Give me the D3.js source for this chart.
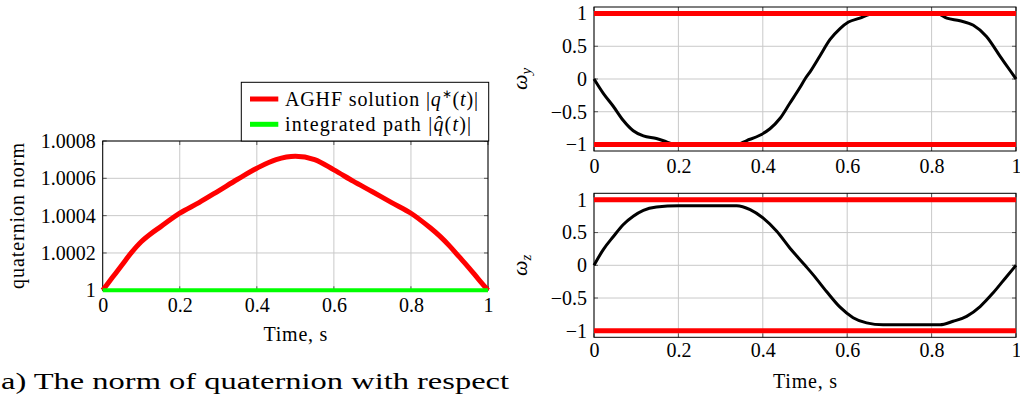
<!DOCTYPE html>
<html>
<head>
<meta charset="utf-8">
<script src="https://cdn.jsdelivr.net/npm/d3@7"></script>
<style>
  body { margin: 0; background: #fff; }
  svg { display: block; }
  text { font-family: "Liberation Serif", "Times New Roman", serif; fill: #000; }
</style>
</head>
<body>
<svg id="fig" width="1020" height="394"></svg>
<script>
// ---- data -------------------------------------------------------------
// Quaternion norm along the path
const normTime = [0, 0.025, 0.05, 0.075, 0.1, 0.125, 0.15, 0.2, 0.25, 0.3, 0.35, 0.4, 0.45, 0.5,
                  0.55, 0.6, 0.65, 0.7, 0.75, 0.8, 0.85, 0.875, 0.9, 0.925, 0.95, 0.975, 1];
const normAGHF = [1.0, 1.000068, 1.000136, 1.000203, 1.00026, 1.000303, 1.00034, 1.000413, 1.00047,
                  1.000532, 1.000595, 1.000654, 1.0007, 1.000718, 1.0007, 1.000645, 1.000585, 1.000528,
                  1.00047, 1.000413, 1.000335, 1.00029, 1.000238, 1.00018, 1.000122, 1.00006, 1.0];
const normIntegratedTime = [0, 1];
const normIntegrated = [1.0, 1.0];

// Angular velocity components
const omegaYTime = [0, 0.022, 0.046, 0.069, 0.093, 0.117, 0.148, 0.172, 0.19, 0.338, 0.362, 0.393,
                    0.417, 0.441, 0.464, 0.488, 0.5, 0.512, 0.536, 0.559, 0.583, 0.603, 0.63, 0.654,
                    0.67, 0.812, 0.836, 0.867, 0.899, 0.93, 0.962, 0.986, 1];
const omegaY = [0, -0.22, -0.42, -0.63, -0.79, -0.87, -0.91, -0.96, -1, -1, -0.94, -0.86,
                -0.76, -0.6, -0.37, -0.13, 0, 0.11, 0.36, 0.6, 0.77, 0.87, 0.93, 0.99,
                1, 1, 0.93, 0.89, 0.82, 0.65, 0.35, 0.13, 0];

const omegaZTime = [0, 0.022, 0.046, 0.069, 0.093, 0.117, 0.148, 0.2, 0.338, 0.37, 0.401, 0.433,
                    0.464, 0.5, 0.52, 0.551, 0.583, 0.614, 0.646, 0.685, 0.82, 0.851, 0.883, 0.915,
                    0.946, 0.978, 1];
const omegaZ = [0, 0.24, 0.44, 0.62, 0.75, 0.84, 0.89, 0.91, 0.91, 0.85, 0.72, 0.52,
                0.265, 0, -0.15, -0.4, -0.64, -0.8, -0.88, -0.91, -0.91, -0.855, -0.78, -0.63,
                -0.42, -0.17, 0];

// Angular velocity limits
const boundTime = [0, 1];
const boundUpper = [1, 1];
const boundLower = [-1, -1];

// Ticks
const timeTicks = [0, 0.2, 0.4, 0.6, 0.8, 1];
const timeTickLabels = ["0", "0.2", "0.4", "0.6", "0.8", "1"];
const normTicks = [1, 1.0002, 1.0004, 1.0006, 1.0008];
const normTickLabels = ["1", "1.0002", "1.0004", "1.0006", "1.0008"];
const omegaTicks = [-1, -0.5, 0, 0.5, 1];
const omegaTickLabels = ["\u22121", "\u22120.5", "0", "0.5", "1"];

// Legend entries
const legendLabels = ["AGHF solution", "integrated path"];

// ---- drawing ----------------------------------------------------------
const svg = d3.select("#fig");
const TICK_FONT = 20;
const GRID = "#c9c9c9";

function zip(xs, ys) { return xs.map((x, i) => [x, ys[i]]); }

function panel(o) {
  const g = svg.append("g");
  const x = d3.scaleLinear().domain([0, 1]).range([o.left, o.right]);
  const y = d3.scaleLinear().domain(o.yDomain).range([o.bottom, o.top]);

  // grid
  g.append("g").selectAll("line").data(o.xTicks).join("line")
    .attr("x1", d => x(d)).attr("x2", d => x(d))
    .attr("y1", o.top).attr("y2", o.bottom)
    .attr("stroke", GRID).attr("stroke-width", 1);
  g.append("g").selectAll("line").data(o.yTicks).join("line")
    .attr("x1", o.left).attr("x2", o.right)
    .attr("y1", d => y(d)).attr("y2", d => y(d))
    .attr("stroke", GRID).attr("stroke-width", 1);

  // small inward ticks on all four sides
  const tk = g.append("g").attr("stroke", "#555").attr("stroke-width", 1);
  o.xTicks.forEach(d => {
    tk.append("line").attr("x1", x(d)).attr("x2", x(d)).attr("y1", o.bottom).attr("y2", o.bottom - 4);
    tk.append("line").attr("x1", x(d)).attr("x2", x(d)).attr("y1", o.top).attr("y2", o.top + 4);
  });
  o.yTicks.forEach(d => {
    tk.append("line").attr("y1", y(d)).attr("y2", y(d)).attr("x1", o.left).attr("x2", o.left + 4);
    tk.append("line").attr("y1", y(d)).attr("y2", y(d)).attr("x1", o.right).attr("x2", o.right - 4);
  });

  // frame
  g.append("rect").attr("x", o.left).attr("y", o.top)
    .attr("width", o.right - o.left).attr("height", o.bottom - o.top)
    .attr("fill", "none").attr("stroke", "#000").attr("stroke-width", 1);

  // axes (labels only)
  const xa = g.append("g").attr("transform", `translate(0,${o.bottom})`)
    .call(d3.axisBottom(x).tickValues(o.xTicks).tickFormat((d, i) => o.xLabels[i])
      .tickSize(0).tickPadding(o.xPad));
  const ya = g.append("g").attr("transform", `translate(${o.left},0)`)
    .call(d3.axisLeft(y).tickValues(o.yTicks).tickFormat((d, i) => o.yLabels[i])
      .tickSize(0).tickPadding(7));
  [xa, ya].forEach(a => {
    a.select(".domain").remove();
    a.selectAll("text").attr("font-family", "Liberation Serif, serif")
      .attr("font-size", TICK_FONT).attr("fill", "#000");
  });

  const line = d3.line().x(d => x(d[0])).y(d => y(d[1])).curve(o.curve);
  o.series.forEach(s => {
    g.append("path").attr("d", line(s.data)).attr("fill", "none")
      .attr("stroke", s.color).attr("stroke-width", s.width)
      .attr("stroke-linejoin", "round").attr("stroke-linecap", "butt");
  });
  return { g, x, y };
}

// Left: quaternion norm
const normPanel = panel({
  left: 102.7, right: 488, top: 141, bottom: 290.3,
  yDomain: [1, 1.0008], curve: d3.curveCatmullRom.alpha(0.5),
  xTicks: timeTicks, xLabels: timeTickLabels, xPad: 7.5,
  yTicks: normTicks, yLabels: normTickLabels,
  series: [
    { data: zip(normTime, normAGHF), color: "#ff0000", width: 5 },
    { data: zip(normIntegratedTime, normIntegrated), color: "#00ff00", width: 4 }
  ]
});

// Right top: omega_y
const omegaYPanel = panel({
  left: 594, right: 1016, top: 7, bottom: 151,
  yDomain: [-1.1, 1.1], curve: d3.curveMonotoneX,
  xTicks: timeTicks, xLabels: timeTickLabels, xPad: 7.5,
  yTicks: omegaTicks, yLabels: omegaTickLabels,
  series: [
    { data: zip(omegaYTime, omegaY), color: "#000", width: 3 },
    { data: zip(boundTime, boundUpper), color: "#ff0000", width: 5 },
    { data: zip(boundTime, boundLower), color: "#ff0000", width: 5 }
  ]
});

// Right bottom: omega_z
const omegaZPanel = panel({
  left: 594, right: 1016, top: 193.3, bottom: 337.3,
  yDomain: [-1.1, 1.1], curve: d3.curveMonotoneX,
  xTicks: timeTicks, xLabels: timeTickLabels, xPad: 6,
  yTicks: omegaTicks, yLabels: omegaTickLabels,
  series: [
    { data: zip(omegaZTime, omegaZ), color: "#000", width: 3 },
    { data: zip(boundTime, boundUpper), color: "#ff0000", width: 5 },
    { data: zip(boundTime, boundLower), color: "#ff0000", width: 5 }
  ]
});

// Axis titles
const LABEL_FONT = 20;
svg.append("text").attr("x", 295.4).attr("y", 340.7).attr("text-anchor", "middle")
  .attr("font-size", LABEL_FONT).attr("textLength", 64).text("Time, s");
svg.append("text").attr("x", 805).attr("y", 387.7).attr("text-anchor", "middle")
  .attr("font-size", LABEL_FONT).attr("textLength", 64).text("Time, s");
svg.append("text").attr("transform", "translate(24,216) rotate(-90)").attr("text-anchor", "middle")
  .attr("font-size", LABEL_FONT).attr("textLength", 146).text("quaternion norm");

function omegaLabel(cx, cy, sub) {
  const t = svg.append("text").attr("transform", `translate(${cx},${cy}) rotate(-90)`)
    .attr("text-anchor", "middle").attr("font-size", 22);
  t.append("tspan").attr("font-style", "italic").text("\u03c9");
  t.append("tspan").attr("font-style", "italic").attr("font-size", 15).attr("dy", 4).text(sub);
}
omegaLabel(527, 79, "y");
omegaLabel(527, 265.3, "z");

// Legend
const lg = svg.append("g");
lg.append("rect").attr("x", 241.3).attr("y", 82.3).attr("width", 247.4).attr("height", 58.7)
  .attr("fill", "#fff").attr("stroke", "#000").attr("stroke-width", 1);
const legendRows = [
  { label: legendLabels[0], color: "#ff0000", y: 99, base: 105.5, hat: false, star: true, len: 193 },
  { label: legendLabels[1], color: "#00ff00", y: 124.3, base: 130.5, hat: true, star: false, len: 186 }
];
legendRows.forEach(r => {
  lg.append("line").attr("x1", 250).attr("x2", 278.3).attr("y1", r.y).attr("y2", r.y)
    .attr("stroke", r.color).attr("stroke-width", 5);
  const t = lg.append("text").attr("x", 285).attr("y", r.base).attr("font-size", 20)
    .attr("textLength", r.len).attr("lengthAdjust", "spacing");
  t.append("tspan").text(r.label + " |");
  t.append("tspan").attr("font-style", "italic").text(r.hat ? "q\u0302" : "q");
  if (r.star) t.append("tspan").attr("font-size", 12).attr("dy", -8).text("\u2217");
  t.append("tspan").attr("dy", r.star ? 8 : 0).text("(");
  t.append("tspan").attr("font-style", "italic").text("t");
  t.append("tspan").text(")|");
});

// Sub-figure caption
svg.append("text").attr("x", 1).attr("y", 388.5).attr("font-size", 23)
  .attr("textLength", 508).attr("lengthAdjust", "spacingAndGlyphs")
  .text("a) The norm of quaternion with respect");
</script>
</body>
</html>
